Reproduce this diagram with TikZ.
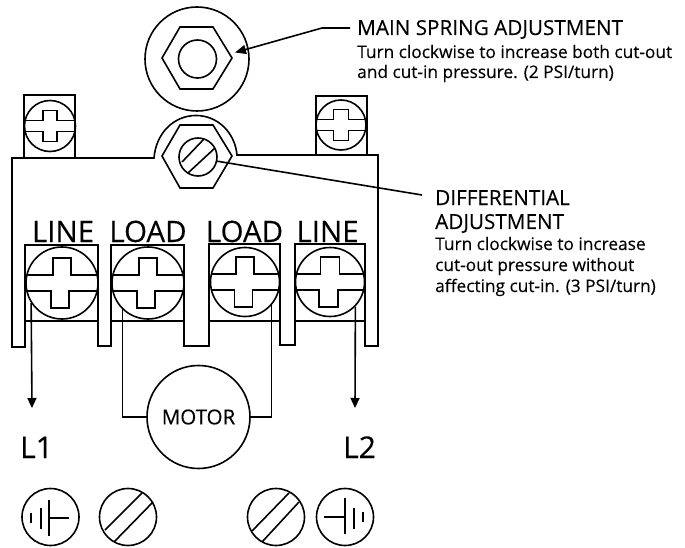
\documentclass[tikz,border=0pt]{standalone}
\usepackage{fontspec}
\setmainfont{Open Sans}[RawFeature={embolden=0.25}]
\usetikzlibrary{arrows.meta}
\newcommand{\fsz}[1]{\fontsize{#1pt}{#1pt}\selectfont}
\tikzset{
  ln/.style={line width=1.6pt,line join=miter},
  rnd/.style={circle,draw,line width=1.6pt,inner sep=0pt,minimum size=#1},
  lab/.style={inner sep=0pt,anchor=base west},
  big/.style={lab,font=\fsz{30}},
  term/.style={inner sep=0pt,anchor=base,font=\fsz{29.5}},
  head/.style={lab,font=\fsz{20.7}},
  body/.style={lab,font=\fsz{17.3}},
  wire/.style={line width=1.6pt},
  tip/.style={-{Triangle[length=10pt,width=9pt]}},
}
% \screw{name}{cx}{cy}{d}{bar half}{arm half}{arm len}{bottom shift}
\newcommand{\screwhead}[8]{%
  \node[rnd=#4pt] (#1) at (#2,#3) {};
  \pgfmathsetmacro{\sdx}{sqrt((#4/2)*(#4/2)-#5*#5)}%
  \draw[ln] (#2-\sdx,#3-#5) -- (#2-#6,#3-#5) -- (#2-#6,#3-#7) -- (#2+#6,#3-#7) -- (#2+#6,#3-#5) -- (#2+\sdx,#3-#5);
  \draw[ln] (#2-\sdx,#3+#5) -- (#2-#6+#8,#3+#5) -- (#2-#6+#8,#3+#7) -- (#2+#6+#8,#3+#7) -- (#2+#6+#8,#3+#5) -- (#2+\sdx,#3+#5);
}
\begin{document}
\begin{tikzpicture}[x=1pt,y=-1pt]
\useasboundingbox (0,0) rectangle (685,548);
% main spring
\node[rnd=104pt] (mainc) at (197,59) {};
\draw[ln] (162,58) -- (180,27) -- (213,27) -- (232,58) -- (213,89) -- (180,89) -- cycle;
\node[rnd=38pt] (mains) at (197.5,59) {};
% body
\draw[ln] (25,321) -- (25,347) -- (12,347) -- (12,158) -- (154,158)
  .. controls (156,133) and (174,115.5) .. (196,115.5)
  .. controls (218,115.5) and (235,133) .. (237,155)
  -- (378,155) -- (378,346) -- (365,346) -- (365,321);
\draw[ln] (98,321) -- (98,346) -- (111,346) -- (111,321);
\draw[ln] (184,321) -- (184,346) -- (209,346) -- (209,321);
\draw[ln] (280,321) -- (280,345) -- (295,345) -- (295,321);
% differential
\draw[ln] (162,156) -- (180,125) -- (213,125) -- (232,156) -- (213,188) -- (180,188) -- cycle;
\node[rnd=38pt] (diffs) at (198,157) {};
\draw[ln] (182,162) -- (204,139);
\draw[ln] (188,173) -- (215,148);
% top screws
\draw[ln] (24,158) -- (24,95) -- (75,95) -- (75,158);
\draw[ln] (316,155) -- (316,96) -- (367,96) -- (367,155);
\screwhead{tl}{50}{126}{51}{5.5}{7}{15.5}{0}
\screwhead{tr}{341}{125}{50}{5.5}{7.5}{15.5}{0}
% terminals
\draw[ln] (25,321) -- (25,245) -- (98,245) -- (98,321) -- cycle;
\draw[ln] (111,321) -- (111,245) -- (184,245) -- (184,321) -- cycle;
\draw[ln] (209,321) -- (209,244) -- (280,244) -- (280,321) -- cycle;
\draw[ln] (295,321) -- (295,244) -- (365,244) -- (365,321) -- cycle;
\screwhead{sa}{62}{283}{72}{8}{9}{25}{-2}
\screwhead{sb}{148}{283}{72}{8}{9}{25}{-2}
\screwhead{sc}{245}{282}{69}{8}{9}{25}{-1.5}
\screwhead{sd}{330}{282}{69}{8}{9.5}{25}{-1.5}
% terminal labels
\node[term] (t1) at (63,242) {LINE};
\node[term] (t2) at (148,242) {LOAD};
\node[term] (t3) at (244.5,242) {LOAD};
\node[term] (t4) at (327.5,242) {LINE};
% motor and wires
\node[rnd=103pt,font=\fsz{20.5}] (motor) at (198.5,417) {MOTOR};
\coordinate (l1end) at (32,408);
\coordinate (l2end) at (355,408);
\draw[wire,tip] (sa.213.6) -- (l1end);
\draw[wire,tip] (sd.316) -- (l2end);
\draw[wire] (sb.226) |- (motor.west);
\draw[wire] (sc.319) |- (motor.east);
\node[big] (l1) at (20,458) {L1};
\node[big] (l2) at (343,458) {L2};
% bottom symbols
\node[rnd=57pt] (c1) at (50.5,517) {};
\draw[ln] (31,513) -- (31,523);
\draw[ln] (41,508) -- (41,529);
\draw[ln] (49,500) -- (49,536);
\draw[ln] (49,518) -- (69,518);
\node[rnd=57pt] (c2) at (128,517) {};
\draw[ln] (105,530) -- (142,493);
\draw[ln] (114,542) -- (153,502);
\node[rnd=57pt] (c3) at (276,517) {};
\draw[ln] (252,531) -- (289,493);
\draw[ln] (262,542) -- (299,502);
\node[rnd=57pt] (c4) at (345,517) {};
\draw[ln] (324,517) -- (345,517);
\draw[ln] (345,498) -- (345,534);
\draw[ln] (354,508) -- (354,529);
\draw[ln] (363,512) -- (363,522);
% callouts
\node[head] (mh) at (357,35) {MAIN SPRING ADJUSTMENT};
\node[body] (mb1) at (357,58) {Turn clockwise to increase both cut-out};
\node[body] (mb2) at (357,78) {and cut-in pressure. (2 PSI/turn)};
\coordinate (me1) at (350,28);
\coordinate (me2) at (322,28);
\coordinate (me3) at (235,52.5);
\draw[wire,-{Triangle[length=11pt,width=9pt]}] (me1) -- (me2) -- (me3);
\coordinate (de1) at (216,161);
\coordinate (de2) at (422,195);
\draw[wire] (de1) -- (de2);
\node[head] (dh1) at (435,205) {DIFFERENTIAL};
\node[head] (dh2) at (435,229) {ADJUSTMENT};
\node[body] (db1) at (435,250) {Turn clockwise to increase};
\node[body] (db2) at (435,271) {cut-out pressure without};
\node[body] (db3) at (435,292) {affecting cut-in. (3 PSI/turn)};
\end{tikzpicture}
\end{document}
